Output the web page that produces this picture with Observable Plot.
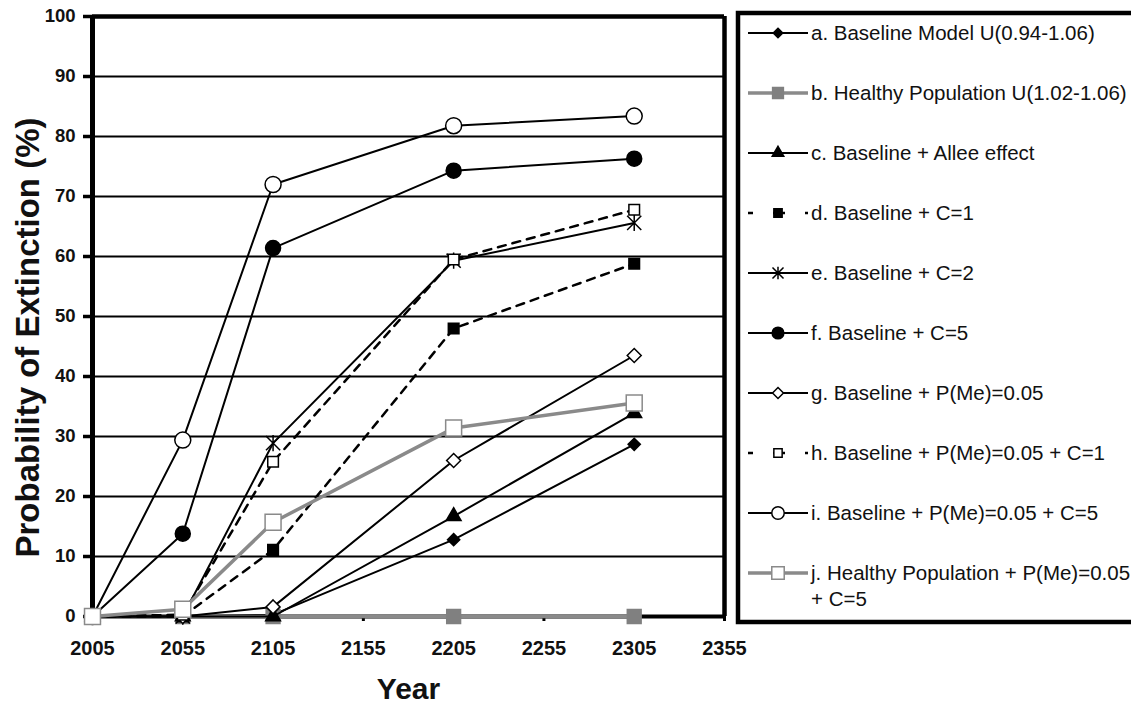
<!DOCTYPE html>
<html><head><meta charset="utf-8">
<script src="https://cdn.jsdelivr.net/npm/d3@7"></script>
<script src="https://cdn.jsdelivr.net/npm/@observablehq/plot@0.6"></script>
<style>
body{margin:0;background:#fff;}
#chart{position:relative;width:1131px;height:707px;overflow:hidden;background:#fff}
</style></head><body><div id="chart"></div>
<script>
// ---- data ----
const years = [2005, 2055, 2105, 2205, 2305];
const xTicks = [2005, 2055, 2105, 2155, 2205, 2255, 2305, 2355];
const yTicks = [0, 10, 20, 30, 40, 50, 60, 70, 80, 90, 100];
const seriesKeys = ["a", "b", "c", "d", "e", "f", "g", "h", "i", "j"];
const seriesLabels = [
  "a. Baseline Model U(0.94-1.06)",
  "b. Healthy Population U(1.02-1.06)",
  "c. Baseline + Allee effect",
  "d. Baseline + C=1",
  "e. Baseline + C=2",
  "f. Baseline + C=5",
  "g. Baseline + P(Me)=0.05",
  "h. Baseline + P(Me)=0.05 + C=1",
  "i. Baseline + P(Me)=0.05 + C=5",
  "j. Healthy Population + P(Me)=0.05|+ C=5"
];
const valsA = [0, 0, 0.3, 12.8, 28.7];
const valsB = [0, 0, 0, 0, 0];
const valsC = [0, 0, 0, 16.7, 33.9];
const valsD = [0, 0, 11.1, 48.0, 58.8];
const valsE = [0, 0, 28.9, 59.3, 65.6];
const valsF = [0, 13.8, 61.4, 74.3, 76.3];
const valsG = [0, 0, 1.6, 26.0, 43.5];
const valsH = [0, 0.3, 25.8, 59.5, 67.8];
const valsI = [0, 29.4, 72.0, 81.8, 83.4];
const valsJ = [0, 1.2, 15.7, 31.4, 35.6];
const allVals = [valsA, valsB, valsC, valsD, valsE, valsF, valsG, valsH, valsI, valsJ];

// custom "star" marker: X with vertical bar
const starX = {
  draw(ctx, size) {
    const r = Math.sqrt(size) * 0.42;
    ctx.moveTo(-r, -r); ctx.lineTo(r, r);
    ctx.moveTo(-r, r); ctx.lineTo(r, -r);
    ctx.moveTo(0, -r * 1.15); ctx.lineTo(0, r * 1.15);
  }
};

const GRAY = "#8a8a8a";
const styles = {
  a: {stroke: "black", sw: 2, dash: null, sym: "diamond2", fill: "black", mstroke: "black", r: 5.5},
  b: {stroke: GRAY, sw: 3.5, dash: null, sym: "square", fill: "#808080", mstroke: "#808080", r: 7.8},
  c: {stroke: "black", sw: 2, dash: null, sym: "triangle", fill: "black", mstroke: "black", r: 5.5},
  d: {stroke: "black", sw: 2.5, dash: "8,7", sym: "square", fill: "black", mstroke: "black", r: 6},
  e: {stroke: "black", sw: 2, dash: null, sym: starX, fill: "none", mstroke: "black", r: 9.5},
  f: {stroke: "black", sw: 2, dash: null, sym: "circle", fill: "black", mstroke: "black", r: 7.5},
  g: {stroke: "black", sw: 2, dash: null, sym: "diamond2", fill: "white", mstroke: "black", r: 6.3},
  h: {stroke: "black", sw: 2.5, dash: "8,7", sym: "square", fill: "white", mstroke: "black", r: 6},
  i: {stroke: "black", sw: 2, dash: null, sym: "circle", fill: "white", mstroke: "black", r: 8},
  j: {stroke: GRAY, sw: 3.5, dash: null, sym: "square", fill: "white", mstroke: GRAY, r: 9}
};

const table = [];
seriesKeys.forEach((k, si) => years.forEach((yr, i) => table.push({series: k, year: yr, value: allVals[si][i]})));

const FONT = "'Liberation Sans', Arial, sans-serif";

const seriesMarks = [];
seriesKeys.forEach(k => {
  const s = styles[k];
  const rows = table.filter(d => d.series === k);
  seriesMarks.push(Plot.line(rows, {x: "year", y: "value", stroke: s.stroke, strokeWidth: s.sw, strokeDasharray: s.dash}));
  seriesMarks.push(Plot.dot(rows, {x: "year", y: "value", symbol: s.sym, r: s.r, fill: s.fill, stroke: s.mstroke, strokeWidth: 1.5}));
});

const chart = Plot.plot({
  width: 1131,
  height: 707,
  marginLeft: 92,
  marginRight: 407,
  marginTop: 16,
  marginBottom: 91,
  style: {fontFamily: FONT, background: "white", color: "black"},
  x: {domain: [2005, 2355], label: null},
  y: {domain: [0, 100], label: null},
  marks: [
    Plot.ruleY(yTicks, {stroke: "black", strokeWidth: 2}),
    Plot.ruleY([100], {stroke: "black", strokeWidth: 4.5}),
    Plot.ruleY([0], {stroke: "black", strokeWidth: 4}),
    Plot.ruleX([2005], {stroke: "black", strokeWidth: 5}),
    Plot.ruleX([2355], {stroke: "black", strokeWidth: 4.5}),
    Plot.axisY({ticks: yTicks, tickSize: 9, strokeWidth: 3.5, tickFormat: () => "", label: null}),
    Plot.axisX({ticks: xTicks, tickSize: 5, strokeWidth: 3, tickFormat: () => "", label: null}),
    Plot.text(yTicks, {y: d => d, text: d => String(d), frameAnchor: "left", dx: -17, textAnchor: "end", lineAnchor: "middle", fontSize: 18.5, fontWeight: "bold", fill: "#111"}),
    Plot.text(xTicks, {x: d => d, text: d => String(d), frameAnchor: "bottom", dy: 32, lineAnchor: "middle", fontSize: 20, fontWeight: "bold", fill: "#111"}),
    ...seriesMarks,
    Plot.text(["Probability of Extinction (%)"], {frameAnchor: "left", dx: -64, dy: 21, rotate: -90, fontSize: 33, fontWeight: "bold", textAnchor: "middle", lineAnchor: "middle", fill: "#111"}),
    Plot.text(["Year"], {frameAnchor: "bottom", dy: 73, lineAnchor: "middle", fontSize: 30, fontWeight: "bold", textAnchor: "middle", fill: "#111"})
  ]
});

document.getElementById("chart").appendChild(chart);

const svg = d3.select(chart);

// ---- legend inside the same SVG ----
const lg = svg.append("g").attr("font-family", FONT).attr("text-anchor", "start");
lg.append("rect").attr("x", 738).attr("y", 13).attr("width", 420).attr("height", 609)
  .attr("fill", "white").attr("stroke", "black").attr("stroke-width", 4.5);
seriesKeys.forEach((k, i) => {
  const s = styles[k];
  const cy = 33 + 60 * i;
  lg.append("line").attr("x1", 748).attr("x2", 808).attr("y1", cy).attr("y2", cy)
    .attr("stroke", s.stroke).attr("stroke-width", s.sw)
    .attr("stroke-dasharray", s.dash ? "5,20,12,20" : null);
  const rr = s.r * 0.78;
  const sym = typeof s.sym === "string" ? d3["symbol" + s.sym[0].toUpperCase() + s.sym.slice(1)] : s.sym;
  lg.append("path").attr("transform", `translate(778,${cy})`)
    .attr("d", d3.symbol().type(sym).size(Math.PI * rr * rr)())
    .attr("fill", s.fill).attr("stroke", s.mstroke).attr("stroke-width", 1.5);
  const lines = seriesLabels[i].split("|");
  const t = lg.append("text").attr("x", 811).attr("y", cy).attr("font-size", 20.5).attr("fill", "#111").attr("text-anchor", "start");
  lines.forEach((ln, j) => t.append("tspan").attr("x", 811).attr("dy", j === 0 ? "0.35em" : "1.25em").text(ln));
});
</script>
</body></html>
